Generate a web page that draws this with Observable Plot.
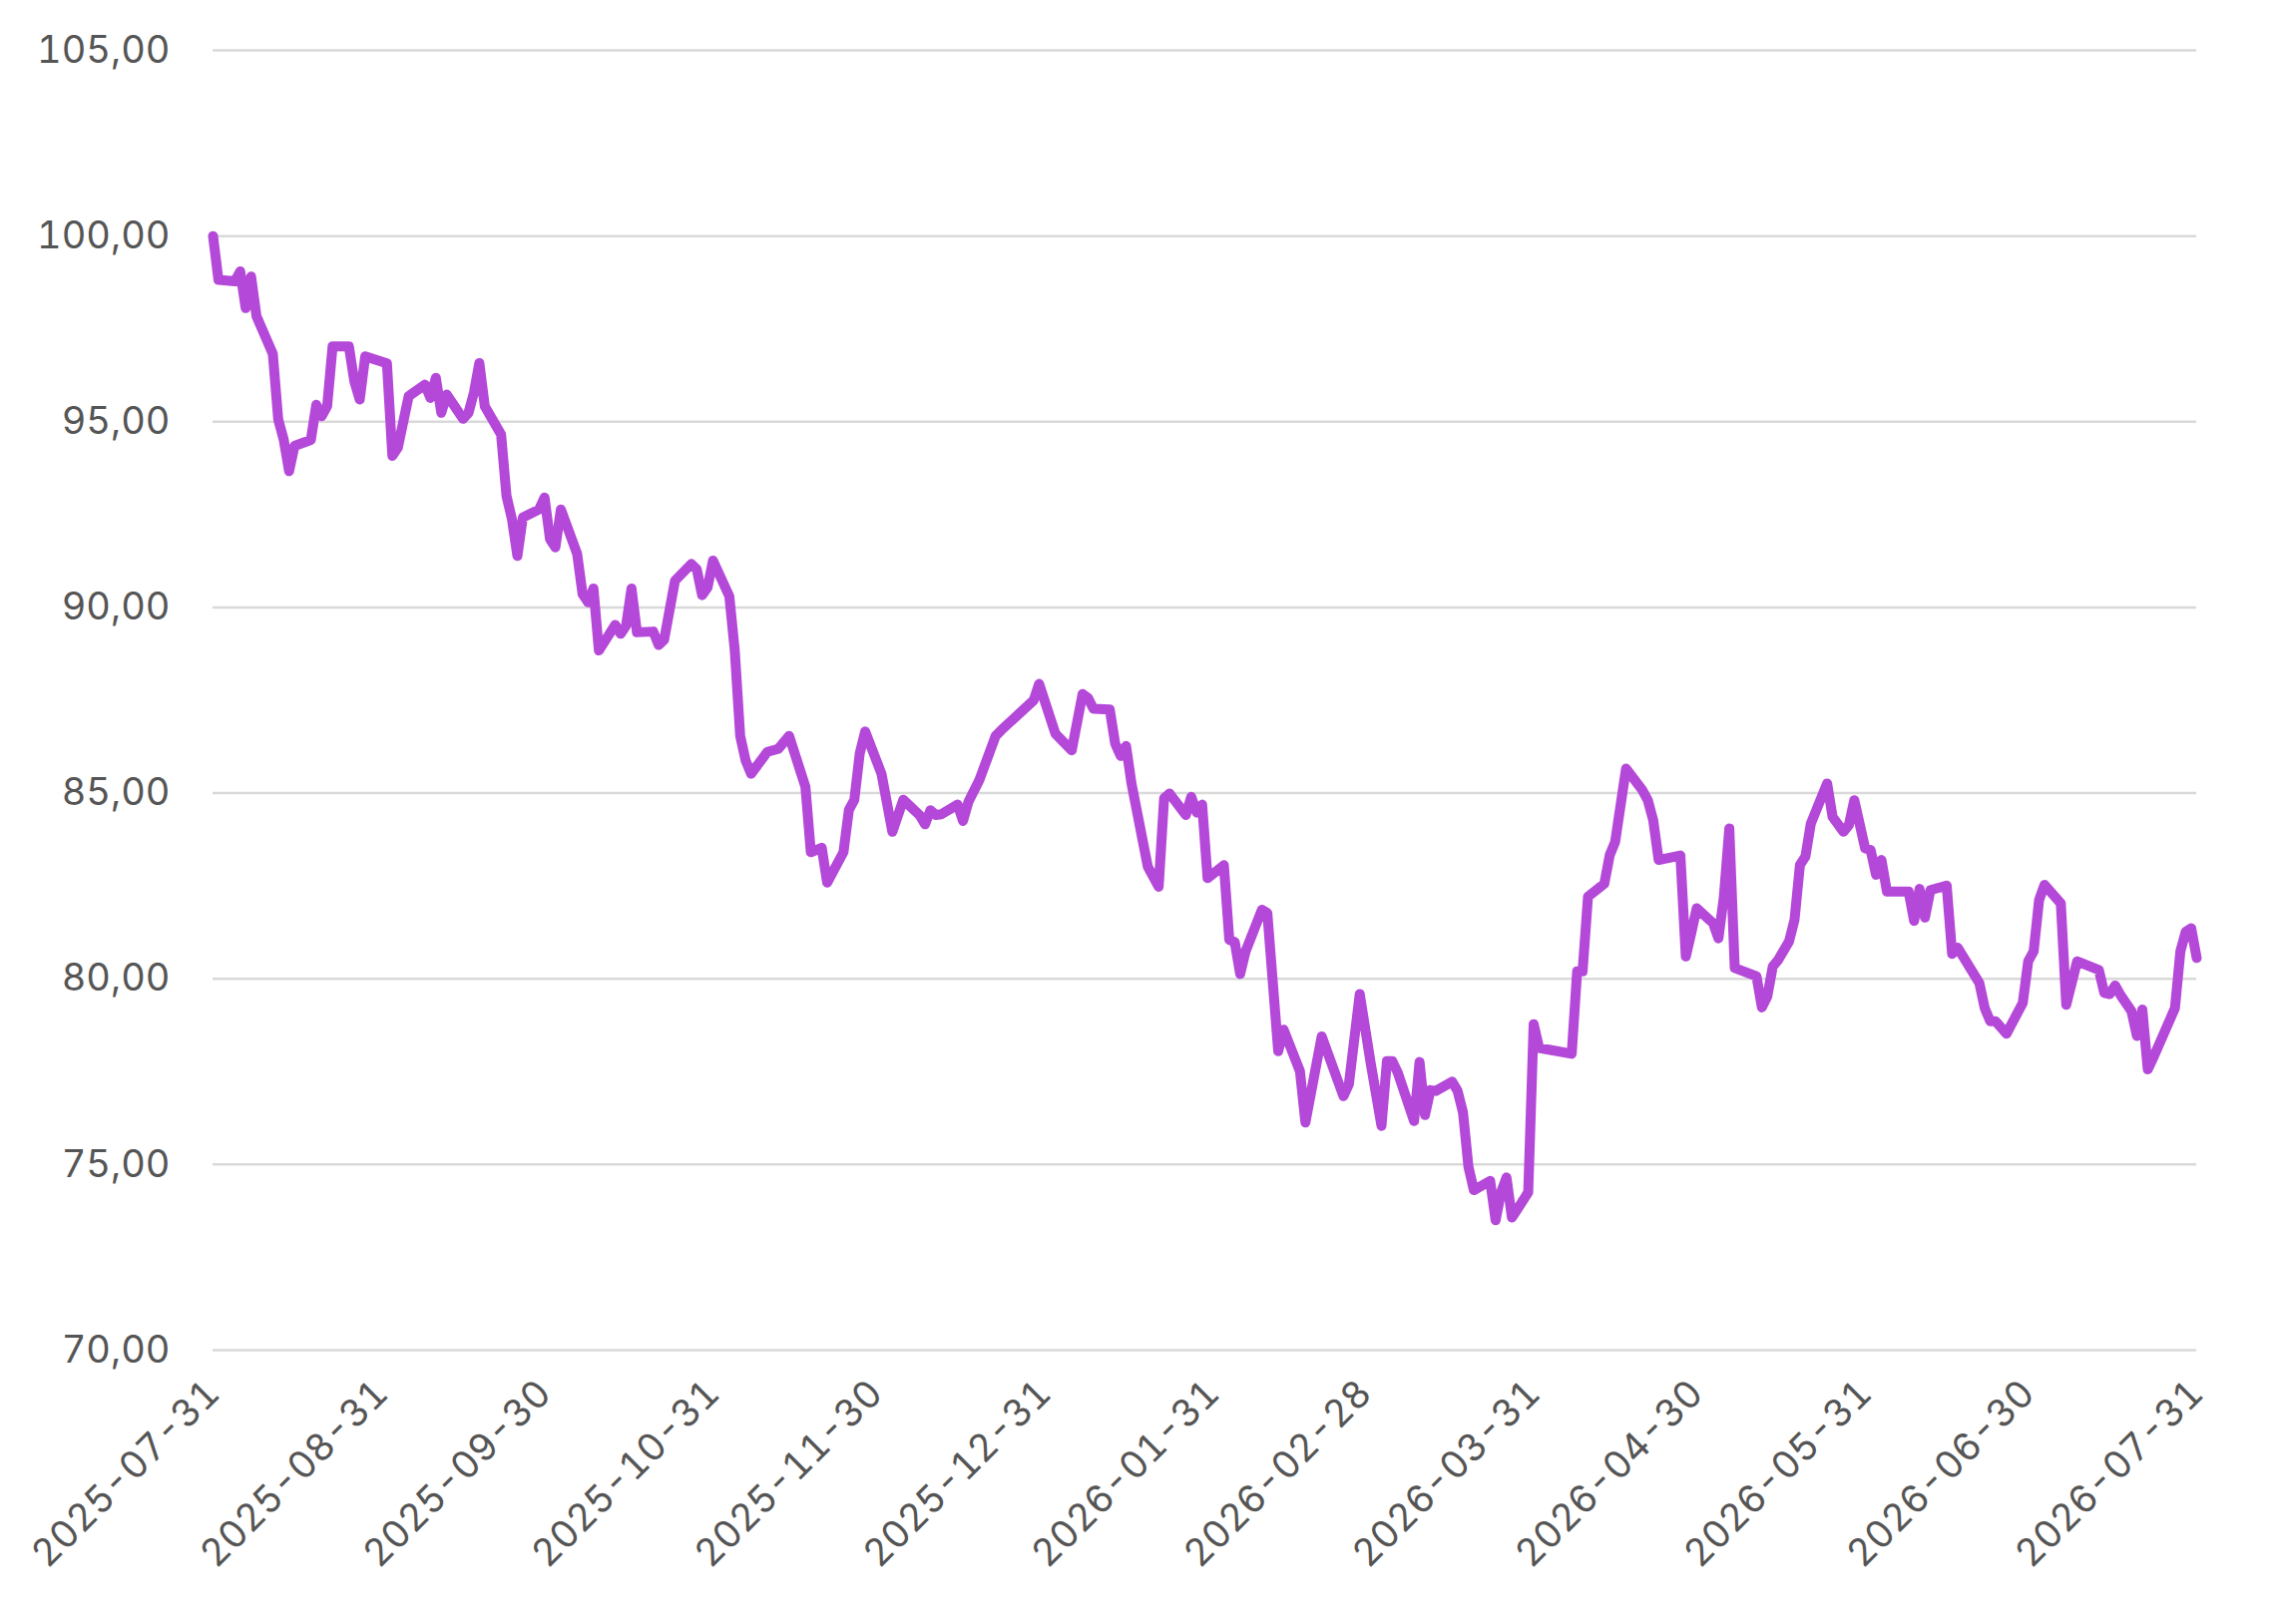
<!DOCTYPE html>
<html>
<head>
<meta charset="utf-8">
<script src="https://cdn.jsdelivr.net/npm/d3@7"></script>
<script src="https://cdn.jsdelivr.net/npm/@observablehq/plot@0.6"></script>
<style>
  html, body { margin: 0; padding: 0; background: #ffffff; }
  #chart { width: 2286px; height: 1628px; }
</style>
</head>
<body>
<div id="chart"></div>
<script>
const dates = [
  "2025-07-31","2025-08-01","2025-08-04","2025-08-05","2025-08-06","2025-08-07","2025-08-08",
  "2025-08-11","2025-08-12","2025-08-13","2025-08-14","2025-08-15","2025-08-18","2025-08-19",
  "2025-08-20","2025-08-21","2025-08-22","2025-08-25","2025-08-26","2025-08-27","2025-08-28",
  "2025-09-01","2025-09-02","2025-09-03","2025-09-05","2025-09-08","2025-09-09","2025-09-10",
  "2025-09-11","2025-09-12","2025-09-15","2025-09-16","2025-09-17","2025-09-18","2025-09-19",
  "2025-09-22","2025-09-23","2025-09-24","2025-09-25","2025-09-26","2025-09-29","2025-09-30",
  "2025-10-01","2025-10-02","2025-10-03","2025-10-06","2025-10-07","2025-10-08","2025-10-09",
  "2025-10-10","2025-10-13","2025-10-14","2025-10-15","2025-10-16","2025-10-17","2025-10-20",
  "2025-10-21","2025-10-22","2025-10-24","2025-10-27","2025-10-28","2025-10-29","2025-10-30",
  "2025-10-31","2025-11-03","2025-11-04","2025-11-05","2025-11-06","2025-11-07","2025-11-10",
  "2025-11-12","2025-11-14","2025-11-17","2025-11-18","2025-11-20","2025-11-21","2025-11-24",
  "2025-11-25","2025-11-26","2025-11-27","2025-11-28","2025-12-01","2025-12-03","2025-12-05",
  "2025-12-08","2025-12-09","2025-12-10","2025-12-11","2025-12-12","2025-12-15","2025-12-16",
  "2025-12-17","2025-12-19","2025-12-22","2025-12-23","2025-12-29","2025-12-30","2026-01-02",
  "2026-01-05","2026-01-07","2026-01-08","2026-01-09","2026-01-12","2026-01-13","2026-01-14",
  "2026-01-15","2026-01-16","2026-01-19","2026-01-21","2026-01-22","2026-01-23","2026-01-26",
  "2026-01-27","2026-01-28","2026-01-29","2026-01-30","2026-02-02","2026-02-03","2026-02-04",
  "2026-02-05","2026-02-06","2026-02-09","2026-02-10","2026-02-12","2026-02-13","2026-02-16",
  "2026-02-17","2026-02-20","2026-02-24","2026-02-25","2026-02-27","2026-03-01","2026-03-03",
  "2026-03-04","2026-03-05","2026-03-06","2026-03-09","2026-03-10","2026-03-11","2026-03-12",
  "2026-03-13","2026-03-16","2026-03-17","2026-03-18","2026-03-19","2026-03-20","2026-03-23",
  "2026-03-24","2026-03-25","2026-03-26","2026-03-27","2026-03-30","2026-03-31","2026-04-01",
  "2026-04-07","2026-04-08","2026-04-09","2026-04-10","2026-04-13","2026-04-14","2026-04-15",
  "2026-04-17","2026-04-20","2026-04-21","2026-04-22","2026-04-23","2026-04-27","2026-04-28",
  "2026-04-29","2026-04-30","2026-05-03","2026-05-04","2026-05-05","2026-05-06","2026-05-07",
  "2026-05-11","2026-05-12","2026-05-13","2026-05-14","2026-05-15","2026-05-17","2026-05-18",
  "2026-05-19","2026-05-20","2026-05-21","2026-05-24","2026-05-25","2026-05-27","2026-05-28",
  "2026-05-29","2026-05-31","2026-06-01","2026-06-02","2026-06-03","2026-06-04","2026-06-08",
  "2026-06-09","2026-06-10","2026-06-11","2026-06-12","2026-06-15","2026-06-16","2026-06-17",
  "2026-06-21","2026-06-22","2026-06-23","2026-06-24","2026-06-26","2026-06-29","2026-06-30",
  "2026-07-01","2026-07-02","2026-07-03","2026-07-06","2026-07-07","2026-07-09","2026-07-13",
  "2026-07-14","2026-07-15","2026-07-16","2026-07-17","2026-07-19","2026-07-20","2026-07-21",
  "2026-07-22","2026-07-23","2026-07-27","2026-07-28","2026-07-29","2026-07-30","2026-07-31"
];

const values = [
  100.00, 98.82, 98.78, 99.05, 98.06, 98.91, 97.84,
  96.83, 95.06, 94.52, 93.67, 94.35, 94.51, 95.46,
  95.15, 95.42, 97.03, 97.03, 96.09, 95.60, 96.76,
  96.57, 94.08, 94.30, 95.69, 96.00, 95.64, 96.18,
  95.24, 95.73, 95.08, 95.24, 95.78, 96.58, 95.42,
  94.66, 93.00, 92.38, 91.39, 92.42, 92.64, 92.96,
  91.84, 91.62, 92.64, 91.44, 90.36, 90.14, 90.51,
  88.84, 89.53, 89.29, 89.51, 90.51, 89.33, 89.35,
  88.99, 89.13, 90.72, 91.17, 91.03, 90.33, 90.54,
  91.26, 90.30, 88.84, 86.54, 85.88, 85.52, 86.11,
  86.19, 86.54, 85.17, 83.41, 83.53, 82.59, 83.41,
  84.55, 84.82, 86.07, 86.66, 85.52, 83.96, 84.82,
  84.41, 84.16, 84.54, 84.41, 84.43, 84.69, 84.25,
  84.77, 85.35, 86.54, 86.69, 87.50, 87.94, 86.60,
  86.15, 87.67, 87.56, 87.27, 87.25, 86.33, 86.00,
  86.27, 85.26, 83.02, 82.48, 84.86, 84.99, 84.41,
  84.90, 84.48, 84.69, 82.71, 83.06, 81.05, 80.99,
  80.13, 80.74, 81.86, 81.77, 78.05, 78.63, 77.51,
  76.13, 78.45, 76.84, 77.16, 79.59, 77.74, 76.04,
  77.78, 77.78, 77.47, 76.17, 77.76, 76.33, 77.00,
  76.98, 77.23, 76.98, 76.40, 74.94, 74.31, 74.56,
  73.50, 74.25, 74.65, 73.57, 74.25, 78.78, 78.14,
  77.98, 80.20, 80.20, 82.21, 82.56, 83.33, 83.69,
  85.66, 85.08, 84.81, 84.27, 83.20, 83.32, 80.60,
  81.23, 81.90, 81.50, 81.09, 82.21, 84.05, 80.29,
  80.07, 79.23, 79.53, 80.33, 80.51, 81.01, 81.59,
  83.07, 83.29, 84.18, 85.26, 84.36, 83.96, 84.14,
  84.81, 83.51, 83.47, 82.80, 83.20, 82.35, 82.35,
  81.56, 82.42, 81.65, 82.39, 82.51, 80.67, 80.84,
  79.89, 79.21, 78.86, 78.86, 78.52, 79.35, 80.47,
  80.74, 82.12, 82.53, 82.03, 79.30, 80.47, 80.24,
  79.62, 79.59, 79.82, 79.56, 79.13, 78.46, 79.17,
  77.56, 77.87, 79.21, 80.74, 81.27, 81.36, 80.56
];

const xTickLabels = [
  "2025-07-31","2025-08-31","2025-09-30","2025-10-31","2025-11-30","2025-12-31",
  "2026-01-31","2026-02-28","2026-03-31","2026-04-30","2026-05-31","2026-06-30","2026-07-31"
];

const yTicks = [70, 75, 80, 85, 90, 95, 100, 105];

const data = dates.map((d, i) => ({date: new Date(d + "T00:00:00Z"), value: values[i]}));
const xTicks = xTickLabels.map(d => new Date(d + "T00:00:00Z"));
const fmtY = d => d.toFixed(2).replace(".", ",");

const chart = Plot.plot({
  width: 2286,
  height: 1628,
  marginLeft: 213,
  marginRight: 85,
  marginTop: 50,
  marginBottom: 275,
  style: {
    fontFamily: "Inter, 'Noto Sans', sans-serif",
    fontSize: "38px",
    color: "#555555",
    background: "#ffffff",
    overflow: "visible"
  },
  x: {type: "utc", domain: [xTicks[0], xTicks[xTicks.length - 1]]},
  y: {domain: [70, 105]},
  marks: [
    Plot.ruleY(yTicks, {stroke: "#d9d9d9", strokeWidth: 2.5}),
    Plot.axisY({ticks: yTicks, tickSize: 0, tickPadding: 43, tickFormat: fmtY, label: null}),
    Plot.axisX({ticks: xTicks, tickSize: 0, tickPadding: 37, tickRotate: -45,
      tickFormat: d3.utcFormat("%Y-%m-%d"), label: null}),
    Plot.lineY(data, {x: "date", y: "value", stroke: "#b448d8", strokeWidth: 10,
      strokeLinejoin: "round", strokeLinecap: "round"})
  ]
});

document.getElementById("chart").appendChild(chart);
</script>
</body>
</html>
